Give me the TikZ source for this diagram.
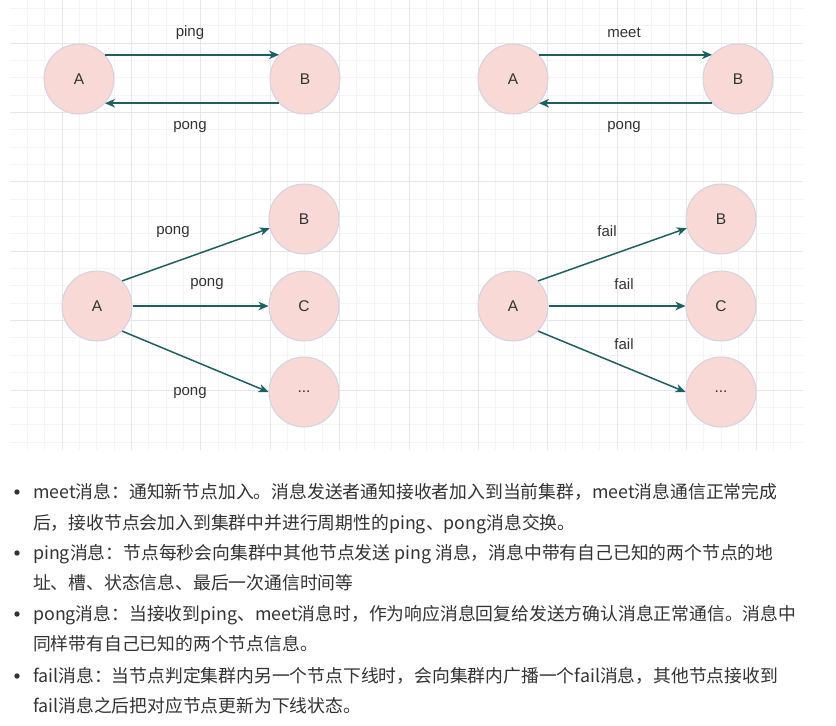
\documentclass[tikz,border=0pt]{standalone}
\usepackage{fontspec}
\setmainfont{Liberation Sans}
\newfontfamily\cjkfont{Noto Sans CJK SC}
\usepackage{tikz}
\usetikzlibrary{arrows.meta,positioning}

\definecolor{peerfill}{HTML}{F8D9D5}
\definecolor{peeredge}{HTML}{D6D0E0}
\definecolor{linkteal}{HTML}{1B6161}
\definecolor{gridmajor}{HTML}{E6E6E9}
\definecolor{gridminor}{HTML}{F4F4F5}
\definecolor{textgray}{HTML}{333333}

\begin{document}
\begin{tikzpicture}[x=1pt, y=-1pt, text=textgray,
  peer/.style={circle, draw=peeredge, fill=peerfill, line width=1pt, minimum size=70pt, inner sep=0pt, font=\fontsize{15.5}{18}\selectfont},
  msg/.style={draw=linkteal, line width=1.5pt, -{Stealth[length=10pt,width=8.5pt,inset=3pt]}},
  msglabel/.style={inner sep=0pt, font=\fontsize{15}{18}\selectfont},
  minorline/.style={draw=gridminor, line width=1pt},
  majorline/.style={draw=gridmajor, line width=1pt},
  textline/.style={anchor=base west, inner sep=0pt, font=\cjkfont\fontsize{17.8}{22}\selectfont},
  bullet/.style={circle, fill=textgray, minimum size=5.4pt, inner sep=0pt}]
\useasboundingbox (0,0) rectangle (836,726);
\fill[white] (0,0) rectangle (836,726);

\def \gridleft {9.95}
\def \gridright {803}
\def \gridbottom {450}
\def \colA {79}
\def \colB {305}
\def \colC {513}
\def \colD {738}

%Grid
\begin{scope}
\clip (\gridleft,0) rectangle (\gridright,\gridbottom);
\foreach \i in {1,...,45}
  \draw[minorline] ({\gridleft+\i*17.35},0) -- ({\gridleft+\i*17.35},\gridbottom);
\foreach \j in {0,...,25}
  \draw[minorline] (\gridleft,{8.3+\j*17.35}) -- (\gridright,{8.3+\j*17.35});
\foreach \i in {0,...,10}
  \draw[majorline] ({62+\i*69.4},0) -- ({62+\i*69.4},\gridbottom);
\foreach \j in {0,...,5}
  \draw[majorline] (\gridleft,{43+\j*69.4}) -- (\gridright,{43+\j*69.4});
\end{scope}

%ping / pong
\node[peer] (pingA) at (\colA,79) {A};
\node[peer] (pingB) at (\colB,79) {B};
\draw[msg] (pingA.43) -- (pingB.137);
\draw[msg] (pingB.-137) -- (pingA.-43);
\node[msglabel] (pinglabel) at (190,33) {ping};
\node[msglabel] (ponglabel) at (190,127) {pong};

%meet / pong
\node[peer] (meetA) at (\colC,79) {A};
\node[peer] (meetB) at (\colD,79) {B};
\draw[msg] (meetA.43) -- (meetB.137);
\draw[msg] (meetB.-137) -- (meetA.-43);
\node[msglabel] (meetlabel) at (624,33) {meet};
\node[msglabel] (meetponglabel) at (624,127) {pong};

%pong broadcast
\node[peer] (bcastA) at (97,306) {A};
\node[peer] (bcastB) at (304,219) {B};
\node[peer] (bcastC) at (304,306) {C};
\node[peer] (bcastD) at (304,392) {...};
\draw[msg] (bcastA.45) -- (bcastB.195);
\draw[msg] (bcastA.east) -- (bcastC.west);
\draw[msg] (bcastA.-45) -- (bcastD.west);
\node[msglabel] (bcastlabelB) at (173,232) {pong};
\node[msglabel] (bcastlabelC) at (207,284) {pong};
\node[msglabel] (bcastlabelD) at (190,393) {pong};

%fail broadcast
\node[peer] (failA) at (\colC,306) {A};
\node[peer] (failB) at (721,219) {B};
\node[peer] (failC) at (721,306) {C};
\node[peer] (failD) at (721,392) {...};
\draw[msg] (failA.45) -- (failB.195);
\draw[msg] (failA.east) -- (failC.west);
\draw[msg] (failA.-45) -- (failD.west);
\node[msglabel] (faillabelB) at (607,231) {fail};
\node[msglabel] (faillabelC) at (624,284) {fail};
\node[msglabel] (faillabelD) at (624,344) {fail};

%Message list
\node[bullet] (meetdot) at (17,492) {};
\node[bullet] (pingdot) at (17,553) {};
\node[bullet] (pongdot) at (17,614) {};
\node[bullet] (faildot) at (17,676) {};
\node[textline] (meetone) at (33,498.5) {meet消息：通知新节点加入。消息发送者通知接收者加入到当前集群，meet消息通信正常完成};
\node[textline] (meettwo) at (33,529.5) {后，接收节点会加入到集群中并进行周期性的ping、pong消息交换。};
\node[textline] (pingone) at (33,559.5) {ping消息：节点每秒会向集群中其他节点发送 ping 消息，消息中带有自己已知的两个节点的地};
\node[textline] (pingtwo) at (33,589.5) {址、槽、状态信息、最后一次通信时间等};
\node[textline] (pongone) at (33,620.5) {pong消息：当接收到ping、meet消息时，作为响应消息回复给发送方确认消息正常通信。消息中};
\node[textline] (pongtwo) at (33,650.5) {同样带有自己已知的两个节点信息。};
\node[textline] (failone) at (33,682.5) {fail消息：当节点判定集群内另一个节点下线时，会向集群内广播一个fail消息，其他节点接收到};
\node[textline] (failtwo) at (33,712.5) {fail消息之后把对应节点更新为下线状态。};

\end{tikzpicture}
\end{document}
